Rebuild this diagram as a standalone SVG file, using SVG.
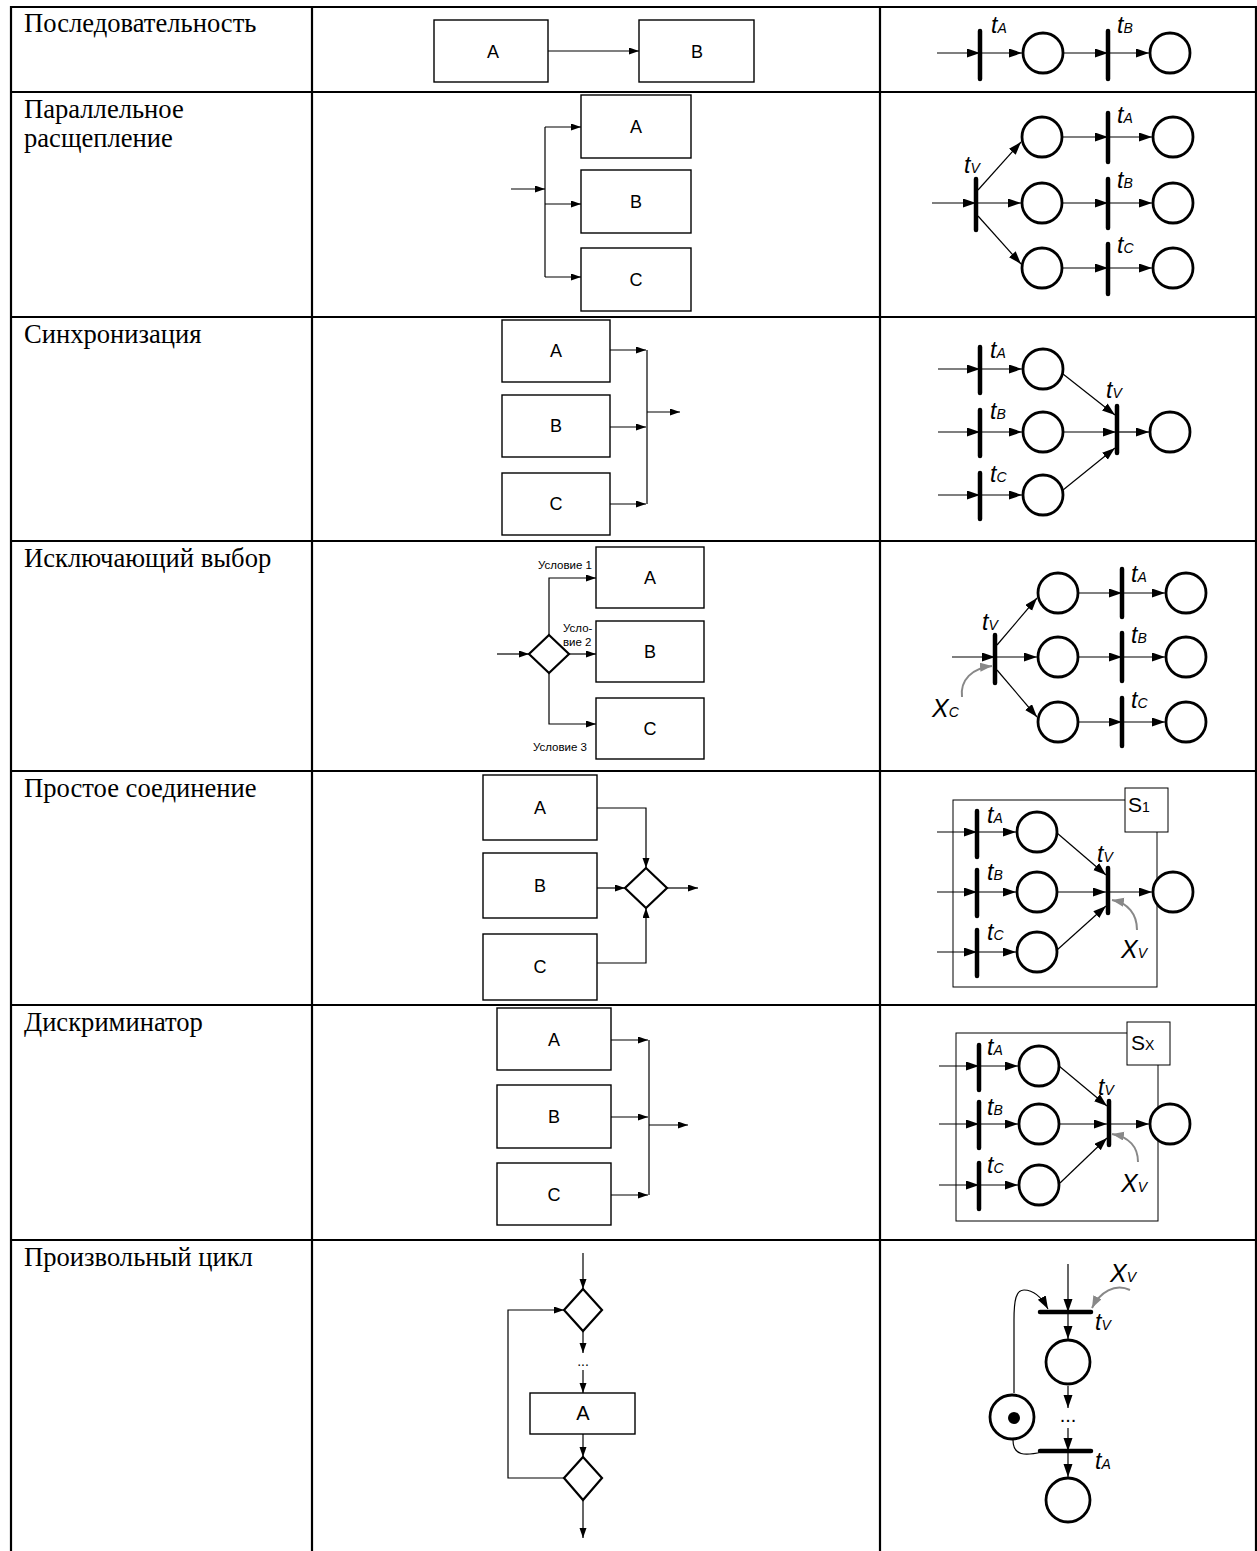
<svg xmlns="http://www.w3.org/2000/svg" width="1257" height="1551" viewBox="0 0 1257 1551">
<style>
.grid{stroke:#000;stroke-width:2.2;fill:none}
.lbl{font-family:"Liberation Serif","Times New Roman",serif;font-size:26.6px;fill:#000}
.box{fill:#fff;stroke:#000;stroke-width:1.4}
.bt{font-family:"Liberation Sans",Arial,sans-serif;font-size:18px;fill:#000;text-anchor:middle}
.fl{stroke:#000;stroke-width:1.2;fill:none}
.fa{stroke:#000;stroke-width:1.2;fill:none;marker-end:url(#fh)}
.dia{fill:#fff;stroke:#000;stroke-width:2.2}
.cond{font-family:"Liberation Sans",Arial,sans-serif;font-size:11.5px;fill:#000}
.pa{stroke:#000;stroke-width:1.2;fill:none;marker-end:url(#ph)}
.bar{stroke:#000;stroke-width:4.5;stroke-linecap:round}
.pl{fill:#fff;stroke:#000;stroke-width:2.8}
.ga{stroke:#888;stroke-width:2;fill:none;marker-end:url(#gh)}
.t{font-family:"Liberation Sans",Arial,sans-serif;font-style:italic;font-size:23px;fill:#000}
.sub{font-size:14px}
.xl{font-family:"Liberation Sans",Arial,sans-serif;font-style:italic;font-size:25px;fill:#000}
.sb{fill:none;stroke:#000;stroke-width:1}
.sbw{fill:#fff;stroke:#000;stroke-width:1}
.st{font-family:"Liberation Sans",Arial,sans-serif;font-size:21px;fill:#000}
.dots{font-family:"Liberation Sans",Arial,sans-serif;font-size:14px;fill:#000;text-anchor:middle}
</style>
<defs>
<marker id="fh" markerUnits="userSpaceOnUse" markerWidth="11" markerHeight="8" refX="10" refY="3.5" orient="auto"><path d="M0,0 L10,3.5 L0,7 z" fill="#000"/></marker>
<marker id="ph" markerUnits="userSpaceOnUse" markerWidth="14" markerHeight="10" refX="13" refY="4.5" orient="auto"><path d="M0,0 L13,4.5 L0,9 z" fill="#000"/></marker>
<marker id="gh" markerUnits="userSpaceOnUse" markerWidth="13" markerHeight="10" refX="12" refY="4.5" orient="auto"><path d="M0,0 L12,4.5 L0,9 z" fill="#888"/></marker>
</defs>
<rect width="1257" height="1551" fill="#fff"/>

<g id="table">
<line class="grid" x1="11" y1="7" x2="1257" y2="7"/>
<line class="grid" x1="11" y1="92" x2="1257" y2="92"/>
<line class="grid" x1="11" y1="317" x2="1257" y2="317"/>
<line class="grid" x1="11" y1="541" x2="1257" y2="541"/>
<line class="grid" x1="11" y1="771" x2="1257" y2="771"/>
<line class="grid" x1="11" y1="1005" x2="1257" y2="1005"/>
<line class="grid" x1="11" y1="1240" x2="1257" y2="1240"/>
<line class="grid" x1="11" y1="6" x2="11" y2="1551"/>
<line class="grid" x1="312" y1="6" x2="312" y2="1551"/>
<line class="grid" x1="880" y1="6" x2="880" y2="1551"/>
<line class="grid" x1="1256" y1="6" x2="1256" y2="1551"/>
</g>

<g id="labels">
<text class="lbl" x="24" y="32">Последовательность</text>
<text class="lbl" x="24" y="118">Параллельное</text>
<text class="lbl" x="24" y="147">расщепление</text>
<text class="lbl" x="24" y="343">Синхронизация</text>
<text class="lbl" x="24" y="567">Исключающий выбор</text>
<text class="lbl" x="24" y="797">Простое соединение</text>
<text class="lbl" x="24" y="1031">Дискриминатор</text>
<text class="lbl" x="24" y="1266">Произвольный цикл</text>
</g>

<g id="frames">
<rect class="sb" x="953" y="800" width="204" height="187"/>
<rect class="sb" x="956" y="1033" width="202" height="188"/>
</g>

<g id="connectors">
<line class="fa" x1="548" y1="51" x2="639" y2="51"/>
<line class="fa" x1="511" y1="189" x2="545" y2="189"/>
<line class="fl" x1="545" y1="127" x2="545" y2="277"/>
<line class="fa" x1="545" y1="127" x2="581" y2="127"/>
<line class="fa" x1="545" y1="204" x2="581" y2="204"/>
<line class="fa" x1="545" y1="277" x2="581" y2="277"/>
<line class="fa" x1="610" y1="350" x2="646" y2="350"/>
<line class="fa" x1="610" y1="427" x2="646" y2="427"/>
<line class="fa" x1="610" y1="504" x2="646" y2="504"/>
<line class="fl" x1="647" y1="350" x2="647" y2="504"/>
<line class="fa" x1="647" y1="412" x2="680" y2="412"/>
<line class="fa" x1="497" y1="654" x2="529" y2="654"/>
<path class="fa" d="M549,635 L549,578 L596,578"/>
<path class="fa" d="M549,673 L549,724 L596,724"/>
<line class="fa" x1="569" y1="654" x2="596" y2="654"/>
<path class="fa" d="M597,808 L646,808 L646,868"/>
<path class="fa" d="M597,963 L646,963 L646,908"/>
<line class="fa" x1="597" y1="888" x2="625" y2="888"/>
<line class="fa" x1="667" y1="888" x2="698" y2="888"/>
<line class="fa" x1="611" y1="1040" x2="648" y2="1040"/>
<line class="fa" x1="611" y1="1117" x2="648" y2="1117"/>
<line class="fa" x1="611" y1="1195" x2="648" y2="1195"/>
<line class="fl" x1="649" y1="1040" x2="649" y2="1195"/>
<line class="fa" x1="649" y1="1125" x2="688" y2="1125"/>
<line class="fa" x1="583" y1="1253" x2="583" y2="1289"/>
<line class="fa" x1="583" y1="1331" x2="583" y2="1353"/>
<line class="fa" x1="583" y1="1370" x2="583" y2="1393"/>
<line class="fa" x1="583" y1="1434" x2="583" y2="1457"/>
<line class="fa" x1="583" y1="1500" x2="583" y2="1538"/>
<path class="fa" d="M564,1478 L508,1478 L508,1310 L564,1310"/>

<line class="pa" x1="937" y1="53" x2="980" y2="53"/>
<line class="pa" x1="980" y1="53" x2="1022" y2="53"/>
<line class="pa" x1="1064" y1="53" x2="1108" y2="53"/>
<line class="pa" x1="1108" y1="53" x2="1149" y2="53"/>
<line class="pa" x1="932" y1="203" x2="976" y2="203"/>
<line class="pa" x1="978" y1="190" x2="1021" y2="142"/>
<line class="pa" x1="976" y1="203" x2="1021" y2="203"/>
<line class="pa" x1="978" y1="216" x2="1021" y2="264"/>
<line class="pa" x1="1063" y1="137" x2="1108" y2="137"/>
<line class="pa" x1="1108" y1="137" x2="1152" y2="137"/>
<line class="pa" x1="1063" y1="203" x2="1108" y2="203"/>
<line class="pa" x1="1108" y1="203" x2="1152" y2="203"/>
<line class="pa" x1="1063" y1="268" x2="1108" y2="268"/>
<line class="pa" x1="1108" y1="268" x2="1152" y2="268"/>
<line class="pa" x1="938" y1="369" x2="980" y2="369"/>
<line class="pa" x1="980" y1="369" x2="1022" y2="369"/>
<line class="pa" x1="938" y1="432" x2="980" y2="432"/>
<line class="pa" x1="980" y1="432" x2="1022" y2="432"/>
<line class="pa" x1="938" y1="495" x2="980" y2="495"/>
<line class="pa" x1="980" y1="495" x2="1022" y2="495"/>
<line class="pa" x1="1063" y1="374" x2="1115" y2="415"/>
<line class="pa" x1="1064" y1="432" x2="1116" y2="432"/>
<line class="pa" x1="1063" y1="490" x2="1115" y2="448"/>
<line class="pa" x1="1117" y1="432" x2="1149" y2="432"/>
<line class="pa" x1="952" y1="657" x2="995" y2="657"/>
<line class="pa" x1="997" y1="645" x2="1037" y2="598"/>
<line class="pa" x1="995" y1="657" x2="1037" y2="657"/>
<line class="pa" x1="997" y1="670" x2="1037" y2="717"/>
<line class="pa" x1="1079" y1="593" x2="1122" y2="593"/>
<line class="pa" x1="1122" y1="593" x2="1165" y2="593"/>
<line class="pa" x1="1079" y1="657" x2="1122" y2="657"/>
<line class="pa" x1="1122" y1="657" x2="1165" y2="657"/>
<line class="pa" x1="1079" y1="722" x2="1122" y2="722"/>
<line class="pa" x1="1122" y1="722" x2="1165" y2="722"/>
<path class="ga" d="M962,697 C960,680 972,668 992,666"/>
<line class="pa" x1="937" y1="832" x2="977" y2="832"/>
<line class="pa" x1="977" y1="832" x2="1016" y2="832"/>
<line class="pa" x1="937" y1="892" x2="977" y2="892"/>
<line class="pa" x1="977" y1="892" x2="1016" y2="892"/>
<line class="pa" x1="937" y1="952" x2="977" y2="952"/>
<line class="pa" x1="977" y1="952" x2="1016" y2="952"/>
<line class="pa" x1="1057" y1="833" x2="1106" y2="875"/>
<line class="pa" x1="1058" y1="892" x2="1106" y2="892"/>
<line class="pa" x1="1057" y1="950" x2="1106" y2="906"/>
<line class="pa" x1="1108" y1="892" x2="1152" y2="892"/>
<path class="ga" d="M1137,930 C1137,914 1128,903 1112,900"/>
<line class="pa" x1="939" y1="1066" x2="979" y2="1066"/>
<line class="pa" x1="979" y1="1066" x2="1018" y2="1066"/>
<line class="pa" x1="939" y1="1124" x2="979" y2="1124"/>
<line class="pa" x1="979" y1="1124" x2="1018" y2="1124"/>
<line class="pa" x1="939" y1="1185" x2="979" y2="1185"/>
<line class="pa" x1="979" y1="1185" x2="1018" y2="1185"/>
<line class="pa" x1="1059" y1="1066" x2="1107" y2="1106"/>
<line class="pa" x1="1060" y1="1124" x2="1107" y2="1124"/>
<line class="pa" x1="1060" y1="1183" x2="1107" y2="1138"/>
<line class="pa" x1="1109" y1="1124" x2="1149" y2="1124"/>
<path class="ga" d="M1138,1162 C1138,1147 1129,1137 1112,1134"/>
<line class="pa" x1="1068" y1="1264" x2="1068" y2="1312"/>
<line class="pa" x1="1068" y1="1312" x2="1068" y2="1339"/>
<line class="pa" x1="1068" y1="1386" x2="1068" y2="1408"/>
<line class="pa" x1="1068" y1="1428" x2="1068" y2="1451"/>
<line class="pa" x1="1068" y1="1451" x2="1068" y2="1477"/>
<path class="pa" d="M1014,1393 L1014,1320 C1014,1300 1016,1290 1024,1290 C1034,1290 1042,1298 1048,1309"/>
<path class="fl" d="M1013,1440 C1013,1456 1025,1456 1042,1452"/>
<path class="ga" d="M1130,1290 C1115,1283 1100,1292 1092,1308"/>
</g>

<g id="seq-A"><rect class="box" x="434" y="20" width="114" height="62"/><text class="bt" x="493" y="58">A</text></g>
<g id="seq-B"><rect class="box" x="639" y="20" width="115" height="62"/><text class="bt" x="697" y="58">B</text></g>

<g id="par-A"><rect class="box" x="581" y="95" width="110" height="63"/><text class="bt" x="636" y="133">A</text></g>
<g id="par-B"><rect class="box" x="581" y="170" width="110" height="63"/><text class="bt" x="636" y="208">B</text></g>
<g id="par-C"><rect class="box" x="581" y="248" width="110" height="63"/><text class="bt" x="636" y="286">C</text></g>

<g id="syn-A"><rect class="box" x="502" y="320" width="108" height="62"/><text class="bt" x="556" y="357">A</text></g>
<g id="syn-B"><rect class="box" x="502" y="395" width="108" height="62"/><text class="bt" x="556" y="432">B</text></g>
<g id="syn-C"><rect class="box" x="502" y="473" width="108" height="62"/><text class="bt" x="556" y="510">C</text></g>

<g id="xor-A"><rect class="box" x="596" y="547" width="108" height="61"/><text class="bt" x="650" y="584">A</text></g>
<g id="xor-B"><rect class="box" x="596" y="621" width="108" height="61"/><text class="bt" x="650" y="658">B</text></g>
<g id="xor-C"><rect class="box" x="596" y="698" width="108" height="61"/><text class="bt" x="650" y="735">C</text></g>
<g id="xor-gw"><polygon class="dia" points="549,635 569,654 549,673 529,654"/></g>
<g id="xor-labels">
<text class="cond" x="592" y="569" text-anchor="end">Условие 1</text>
<text class="cond" x="563" y="632">Усло-</text>
<text class="cond" x="563" y="646">вие 2</text>
<text class="cond" x="587" y="751" text-anchor="end">Условие 3</text>
</g>

<g id="merge-A"><rect class="box" x="483" y="775" width="114" height="65"/><text class="bt" x="540" y="814">A</text></g>
<g id="merge-B"><rect class="box" x="483" y="853" width="114" height="65"/><text class="bt" x="540" y="892">B</text></g>
<g id="merge-C"><rect class="box" x="483" y="934" width="114" height="66"/><text class="bt" x="540" y="973">C</text></g>
<g id="merge-gw"><polygon class="dia" points="646,868 667,888 646,908 625,888"/></g>

<g id="disc-A"><rect class="box" x="497" y="1008" width="114" height="62"/><text class="bt" x="554" y="1046">A</text></g>
<g id="disc-B"><rect class="box" x="497" y="1085" width="114" height="63"/><text class="bt" x="554" y="1123">B</text></g>
<g id="disc-C"><rect class="box" x="497" y="1163" width="114" height="62"/><text class="bt" x="554" y="1201">C</text></g>

<g id="loop-gw1"><polygon class="dia" points="583,1289 602,1310 583,1331 564,1310"/></g>
<g id="loop-dots"><text class="dots" x="583" y="1366">...</text></g>
<g id="loop-A"><rect class="box" x="530" y="1393" width="105" height="41"/><text class="bt" x="583" y="1420" style="font-size:20px">A</text></g>
<g id="loop-gw2"><polygon class="dia" points="583,1457 602,1478 583,1500 564,1478"/></g>

<g id="p1">
<line class="bar" x1="980" y1="31" x2="980" y2="79"/>
<circle class="pl" cx="1043" cy="53" r="20"/>
<line class="bar" x1="1108" y1="31" x2="1108" y2="79"/>
<circle class="pl" cx="1170" cy="53" r="20"/>
<text class="t" x="991" y="33">t<tspan class="sub">A</tspan></text>
<text class="t" x="1117" y="33">t<tspan class="sub">B</tspan></text>
</g>

<g id="p2">
<line class="bar" x1="976" y1="179" x2="976" y2="230"/>
<circle class="pl" cx="1042" cy="137" r="20"/>
<circle class="pl" cx="1042" cy="203" r="20"/>
<circle class="pl" cx="1042" cy="268" r="20"/>
<line class="bar" x1="1108" y1="113" x2="1108" y2="162"/>
<line class="bar" x1="1108" y1="179" x2="1108" y2="228"/>
<line class="bar" x1="1108" y1="244" x2="1108" y2="294"/>
<circle class="pl" cx="1173" cy="137" r="20"/>
<circle class="pl" cx="1173" cy="203" r="20"/>
<circle class="pl" cx="1173" cy="268" r="20"/>
<text class="t" x="964" y="173">t<tspan class="sub">V</tspan></text>
<text class="t" x="1117" y="123">t<tspan class="sub">A</tspan></text>
<text class="t" x="1117" y="188">t<tspan class="sub">B</tspan></text>
<text class="t" x="1117" y="253">t<tspan class="sub">C</tspan></text>
</g>

<g id="p3">
<line class="bar" x1="980" y1="347" x2="980" y2="393"/>
<line class="bar" x1="980" y1="410" x2="980" y2="456"/>
<line class="bar" x1="980" y1="473" x2="980" y2="519"/>
<circle class="pl" cx="1043" cy="369" r="20"/>
<circle class="pl" cx="1043" cy="432" r="20"/>
<circle class="pl" cx="1043" cy="495" r="20"/>
<line class="bar" x1="1117" y1="406" x2="1117" y2="453"/>
<circle class="pl" cx="1170" cy="432" r="20"/>
<text class="t" x="990" y="358">t<tspan class="sub">A</tspan></text>
<text class="t" x="990" y="419">t<tspan class="sub">B</tspan></text>
<text class="t" x="990" y="482">t<tspan class="sub">C</tspan></text>
<text class="t" x="1106" y="398">t<tspan class="sub">V</tspan></text>
</g>

<g id="p4">
<line class="bar" x1="995" y1="635" x2="995" y2="683"/>
<circle class="pl" cx="1058" cy="593" r="20"/>
<circle class="pl" cx="1058" cy="657" r="20"/>
<circle class="pl" cx="1058" cy="722" r="20"/>
<line class="bar" x1="1122" y1="569" x2="1122" y2="617"/>
<line class="bar" x1="1122" y1="633" x2="1122" y2="681"/>
<line class="bar" x1="1122" y1="698" x2="1122" y2="746"/>
<circle class="pl" cx="1186" cy="593" r="20"/>
<circle class="pl" cx="1186" cy="657" r="20"/>
<circle class="pl" cx="1186" cy="722" r="20"/>
<text class="t" x="982" y="630">t<tspan class="sub">V</tspan></text>
<text class="t" x="1131" y="582">t<tspan class="sub">A</tspan></text>
<text class="t" x="1131" y="643">t<tspan class="sub">B</tspan></text>
<text class="t" x="1131" y="708">t<tspan class="sub">C</tspan></text>
<text class="xl" x="932" y="717">X<tspan class="sub">C</tspan></text>
</g>

<g id="p5">
<rect class="sbw" x="1125" y="788" width="43" height="44"/>
<text class="st" x="1128" y="812">S<tspan style="font-size:14px">1</tspan></text>
<line class="bar" x1="977" y1="811" x2="977" y2="857"/>
<line class="bar" x1="977" y1="870" x2="977" y2="916"/>
<line class="bar" x1="977" y1="930" x2="977" y2="976"/>
<circle class="pl" cx="1037" cy="832" r="20"/>
<circle class="pl" cx="1037" cy="892" r="20"/>
<circle class="pl" cx="1037" cy="952" r="20"/>
<line class="bar" x1="1108" y1="868" x2="1108" y2="913"/>
<circle class="pl" cx="1173" cy="892" r="20"/>
<text class="t" x="987" y="823">t<tspan class="sub">A</tspan></text>
<text class="t" x="987" y="880">t<tspan class="sub">B</tspan></text>
<text class="t" x="987" y="940">t<tspan class="sub">C</tspan></text>
<text class="t" x="1097" y="862">t<tspan class="sub">V</tspan></text>
<text class="xl" x="1121" y="958">X<tspan class="sub">V</tspan></text>
</g>

<g id="p6">
<rect class="sbw" x="1127" y="1022" width="43" height="43"/>
<text class="st" x="1131" y="1050">S<tspan style="font-size:14px">X</tspan></text>
<line class="bar" x1="979" y1="1045" x2="979" y2="1090"/>
<line class="bar" x1="979" y1="1102" x2="979" y2="1148"/>
<line class="bar" x1="979" y1="1163" x2="979" y2="1209"/>
<circle class="pl" cx="1039" cy="1066" r="20"/>
<circle class="pl" cx="1039" cy="1124" r="20"/>
<circle class="pl" cx="1039" cy="1185" r="20"/>
<line class="bar" x1="1109" y1="1101" x2="1109" y2="1145"/>
<circle class="pl" cx="1170" cy="1124" r="20"/>
<text class="t" x="987" y="1055">t<tspan class="sub">A</tspan></text>
<text class="t" x="987" y="1115">t<tspan class="sub">B</tspan></text>
<text class="t" x="987" y="1173">t<tspan class="sub">C</tspan></text>
<text class="t" x="1098" y="1095">t<tspan class="sub">V</tspan></text>
<text class="xl" x="1121" y="1192">X<tspan class="sub">V</tspan></text>
</g>

<g id="p7">
<line class="bar" x1="1040" y1="1312" x2="1091" y2="1312"/>
<circle class="pl" cx="1068" cy="1362" r="22"/>
<text class="dots" x="1068" y="1422" style="font-size:20px">...</text>
<line class="bar" x1="1040" y1="1451" x2="1091" y2="1451"/>
<circle class="pl" cx="1068" cy="1500" r="22"/>
<circle class="pl" cx="1012" cy="1417" r="22"/>
<circle cx="1014" cy="1418" r="6" fill="#000"/>
<text class="xl" x="1110" y="1282">X<tspan class="sub">V</tspan></text>
<text class="t" x="1095" y="1330">t<tspan class="sub">V</tspan></text>
<text class="t" x="1095" y="1469">t<tspan class="sub">A</tspan></text>
</g>
</svg>
